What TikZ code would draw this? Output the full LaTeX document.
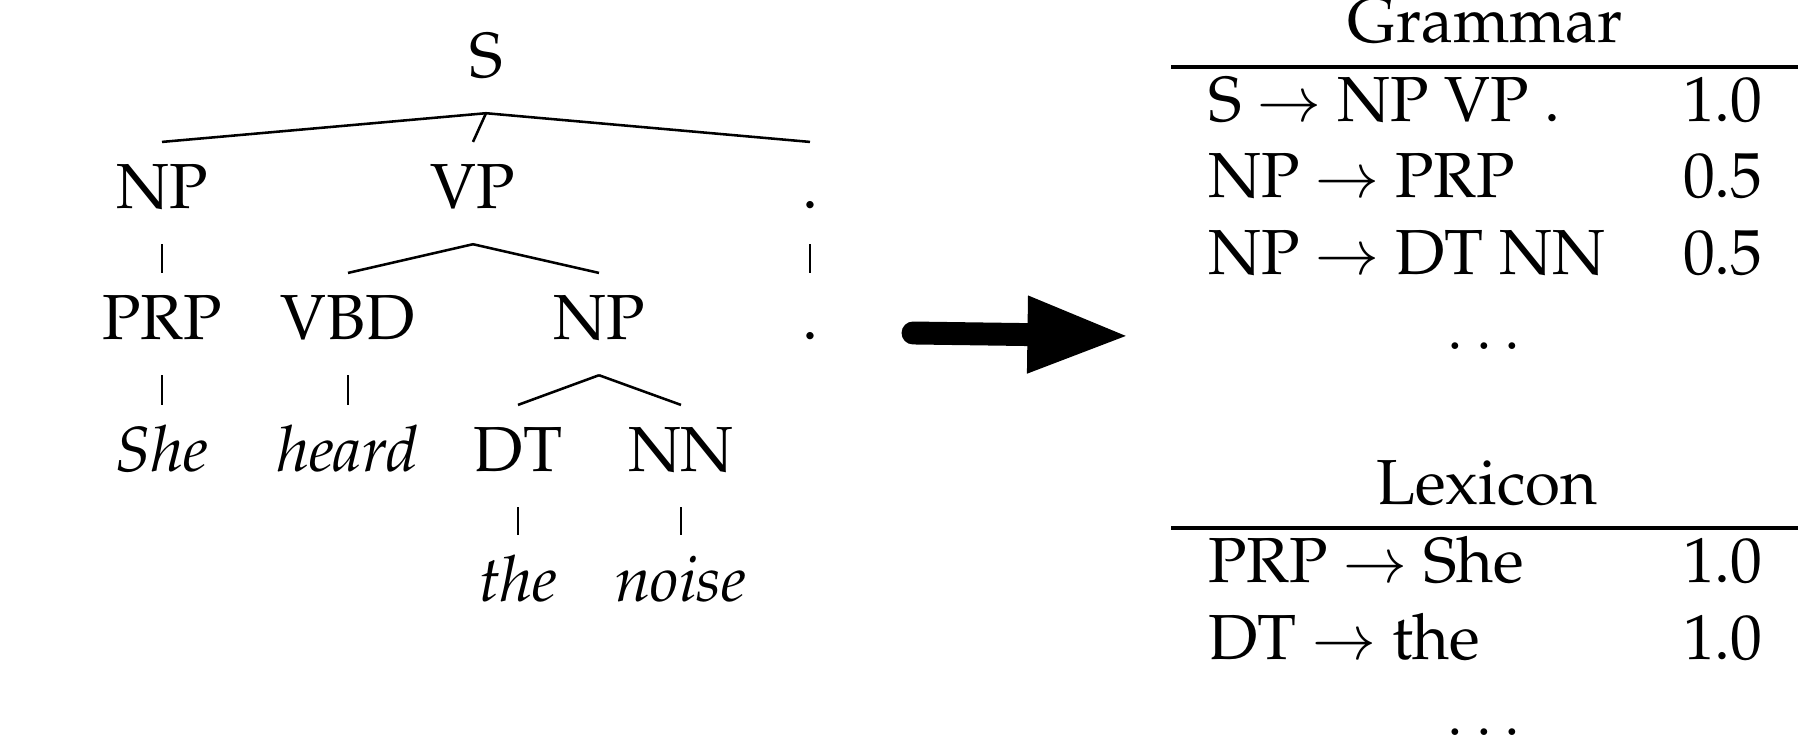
\documentclass[tikz,border=0pt]{standalone}
\usepackage[T1]{fontenc}
\usepackage{palatino}
\usepackage{amsmath}
\usetikzlibrary{arrows.meta}

\begin{document}
\begin{tikzpicture}[x=0.157pt,y=-0.157pt,
    cat/.style={anchor=base,inner sep=3.33pt,text height=7pt,text depth=2pt},
    lhs/.style={anchor=base west,inner sep=0pt},
    prob/.style={anchor=base east,inner sep=0pt},
    head/.style={anchor=base,inner sep=0pt}]
    \useasboundingbox (0,0) rectangle (1798,738);

    % parse tree
    \node[cat] (S) at (486,78) {S};
    \node[cat] (NPa) at (162,209) {NP};
    \node[cat] (VP) at (473,209) {VP};
    \node[cat] (pa) at (810,209) {.};
    \node[cat] (PRP) at (162,340) {PRP};
    \node[cat] (VBD) at (348,340) {VBD};
    \node[cat] (NPb) at (599,340) {NP};
    \node[cat] (pb) at (810,340) {.};
    \node[cat] (she) at (162,472) {\textit{She}};
    \node[cat] (heard) at (348,472) {\textit{heard}};
    \node[cat] (DT) at (518,472) {DT};
    \node[cat] (NN) at (681,472) {NN};
    \node[cat] (the) at (518,602) {\textit{the}};
    \node[cat] (noise) at (681,602) {\textit{noise}};
    \foreach \a/\b in {S/NPa,S/VP,S/pa,NPa/PRP,VP/VBD,VP/NPb,pa/pb,
        PRP/she,VBD/heard,NPb/DT,NPb/NN,DT/the,NN/noise}
        \draw (\a.south) -- (\b.north);

    % arrow
    \coordinate (from) at (913,333);
    \coordinate (to) at (1130,336);
    \draw[line width=3.6pt,line cap=round,-{Triangle[length=16.1pt,width=11.1pt]}] (from) -- (to);

    % grammar
    \node[head] (gram) at (1485,43) {Grammar};
    \draw[line width=0.6pt] (1171,67) -- (1800,67);
    \foreach \y/\r/\p in {122/{S $\rightarrow$ NP VP .}/1.0,
        198/{NP $\rightarrow$ PRP}/0.5,
        275/{NP $\rightarrow$ DT NN}/0.5} {
        \node[lhs] at (1207,\y) {\r};
        \node[prob] at (1764,\y) {\p};
    }
    \node[head] (gdots) at (1484,350) {$\ldots$};

    % lexicon
    \node[head] (lex) at (1487,505) {Lexicon};
    \draw[line width=0.6pt] (1171,528) -- (1800,528);
    \foreach \y/\r/\p in {583/{PRP $\rightarrow$ She}/1.0,
        660/{DT $\rightarrow$ the}/1.0} {
        \node[lhs] at (1207,\y) {\r};
        \node[prob] at (1764,\y) {\p};
    }
    \node[head] (ldots) at (1484,736) {$\ldots$};
\end{tikzpicture}
\end{document}
